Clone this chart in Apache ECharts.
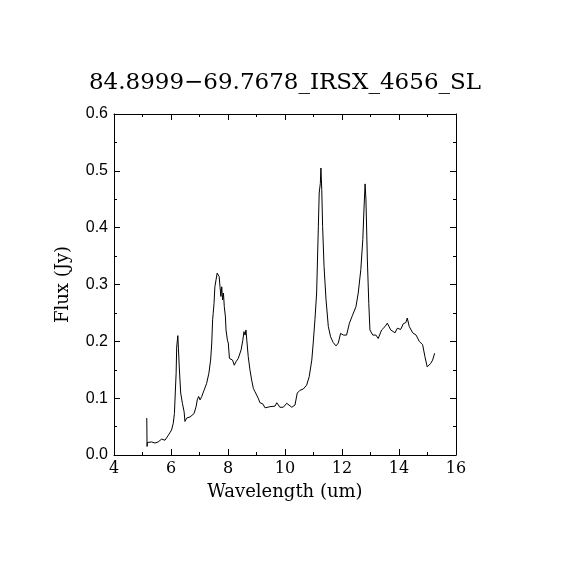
<!DOCTYPE html>
<html>
<head>
<meta charset="utf-8">
<script src="https://cdn.jsdelivr.net/npm/echarts@6/dist/echarts.min.js"></script>
<style>
  html, body { margin: 0; padding: 0; background: #fff; }
  #chart { width: 570px; height: 570px; }
</style>
</head>
<body>
<div id="chart"></div>
<script>
// spectrum
var wavelength = [5.15, 5.16, 5.17, 5.32, 5.44, 5.55, 5.67, 5.79, 5.91, 6.02, 6.08, 6.12, 6.15, 6.18, 6.20, 6.24, 6.26, 6.29, 6.34, 6.40,
    6.46, 6.49, 6.55, 6.61, 6.67, 6.73, 6.81, 6.88, 6.92, 6.97, 7.02, 7.08, 7.16, 7.25, 7.33, 7.39, 7.43, 7.46, 7.48, 7.51,
    7.54, 7.58, 7.62, 7.66, 7.69, 7.72, 7.75, 7.78, 7.81, 7.84, 7.87, 7.91, 7.93, 7.98, 8.01, 8.05, 8.09, 8.16, 8.22, 8.28,
    8.36, 8.42, 8.46, 8.52, 8.56, 8.60, 8.63, 8.66, 8.71, 8.77, 8.83, 8.89, 8.95, 9.01, 9.06, 9.12, 9.22, 9.30, 9.47, 9.65,
    9.71, 9.82, 9.94, 10.06, 10.24, 10.35, 10.43, 10.53, 10.64, 10.76, 10.85, 10.94, 10.99, 11.05, 11.11, 11.17, 11.20, 11.24, 11.26, 11.29,
    11.32, 11.37, 11.44, 11.52, 11.60, 11.69, 11.79, 11.87, 11.95, 12.05, 12.16, 12.26, 12.37, 12.49, 12.57, 12.66, 12.73, 12.77, 12.81, 12.84,
    12.89, 12.94, 12.98, 13.08, 13.19, 13.27, 13.39, 13.51, 13.59, 13.64, 13.71, 13.86, 13.94, 14.06, 14.15, 14.24, 14.29, 14.36, 14.48, 14.60,
    14.71, 14.83, 14.91, 14.99, 15.11, 15.18, 15.25];
var flux = [0.065, 0.015, 0.022, 0.023, 0.021, 0.023, 0.028, 0.026, 0.035, 0.044, 0.056, 0.073, 0.109, 0.144, 0.190, 0.210, 0.188, 0.155, 0.109, 0.091,
    0.076, 0.059, 0.065, 0.067, 0.067, 0.070, 0.073, 0.085, 0.097, 0.103, 0.097, 0.103, 0.114, 0.126, 0.144, 0.167, 0.197, 0.238, 0.249, 0.267,
    0.296, 0.308, 0.320, 0.323, 0.314, 0.296, 0.279, 0.296, 0.273, 0.285, 0.261, 0.243, 0.220, 0.202, 0.197, 0.170, 0.167, 0.167, 0.158, 0.164,
    0.170, 0.173, 0.185, 0.202, 0.217, 0.211, 0.220, 0.202, 0.173, 0.150, 0.132, 0.117, 0.111, 0.109, 0.100, 0.092, 0.090, 0.083, 0.085, 0.086,
    0.092, 0.084, 0.084, 0.091, 0.084, 0.088, 0.109, 0.114, 0.116, 0.123, 0.138, 0.167, 0.197, 0.238, 0.285, 0.402, 0.461, 0.478, 0.505, 0.467,
    0.402, 0.332, 0.273, 0.226, 0.208, 0.198, 0.192, 0.197, 0.214, 0.211, 0.211, 0.232, 0.246, 0.261, 0.285, 0.326, 0.379, 0.431, 0.477, 0.449,
    0.343, 0.267, 0.220, 0.211, 0.211, 0.205, 0.220, 0.226, 0.232, 0.235, 0.220, 0.215, 0.223, 0.221, 0.231, 0.233, 0.241, 0.226, 0.215, 0.211,
    0.200, 0.194, 0.173, 0.155, 0.161, 0.167, 0.179];

var titleText = '84.8999\u221269.7678_IRSX_4656_SL';
var xName = 'Wavelength (um)';
var yName = 'Flux (Jy)';

var points = wavelength.map(function (w, i) {
    return [w, flux[i]];
});

var serif = '"DejaVu Serif", "Liberation Serif", serif';
var sans = '"Liberation Sans", "DejaVu Sans", sans-serif';

function xAxisConf(pos) {
    var bottom = pos === 'bottom';
    return {
        type: 'value',
        position: pos,
        min: 4,
        max: 16,
        interval: 2,
        name: bottom ? xName : '',
        nameLocation: 'middle',
        nameGap: 28,
        nameTextStyle: { color: '#000', fontFamily: serif, fontSize: 18 },
        axisLine: { show: true, onZero: false, lineStyle: { color: '#000', width: 1 } },
        axisTick: { show: true, inside: true, length: 6, lineStyle: { color: '#000' } },
        minorTick: { show: true, splitNumber: 2, length: 3, lineStyle: { color: '#000' } },
        axisLabel: { show: bottom, color: '#000', fontFamily: serif, fontSize: 16, margin: 6 },
        splitLine: { show: false }
    };
}

function yAxisConf(pos) {
    var left = pos === 'left';
    return {
        type: 'value',
        position: pos,
        min: 0,
        max: 0.6,
        interval: 0.1,
        name: left ? yName : '',
        nameLocation: 'middle',
        nameGap: 42,
        nameTextStyle: { color: '#000', fontFamily: serif, fontSize: 18 },
        axisLine: { show: true, onZero: false, lineStyle: { color: '#000', width: 1 } },
        axisTick: { show: true, inside: true, length: 6, lineStyle: { color: '#000' } },
        minorTick: { show: true, splitNumber: 2, length: 3, lineStyle: { color: '#000' } },
        axisLabel: {
            show: left, color: '#000', fontFamily: sans, fontSize: 16, margin: 6,
            formatter: function (v) { return v.toFixed(1); }
        },
        splitLine: { show: false }
    };
}

var myChart = echarts.init(document.getElementById('chart'));
var option = {
    backgroundColor: '#fff',
    animation: false,
    title: {
        text: titleText,
        left: 'center',
        top: 67,
        textStyle: { color: '#000', fontFamily: serif, fontSize: 23, fontWeight: 'normal' }
    },
    grid: { left: 114, right: 114, top: 114, bottom: 115 },
    xAxis: [xAxisConf('bottom'), xAxisConf('top')],
    yAxis: [yAxisConf('left'), yAxisConf('right')],
    series: [{
        type: 'line',
        data: points,
        showSymbol: false,
        lineStyle: { color: '#000', width: 1 },
        itemStyle: { color: '#000' }
    }]
};
myChart.setOption(option);
</script>
</body>
</html>
